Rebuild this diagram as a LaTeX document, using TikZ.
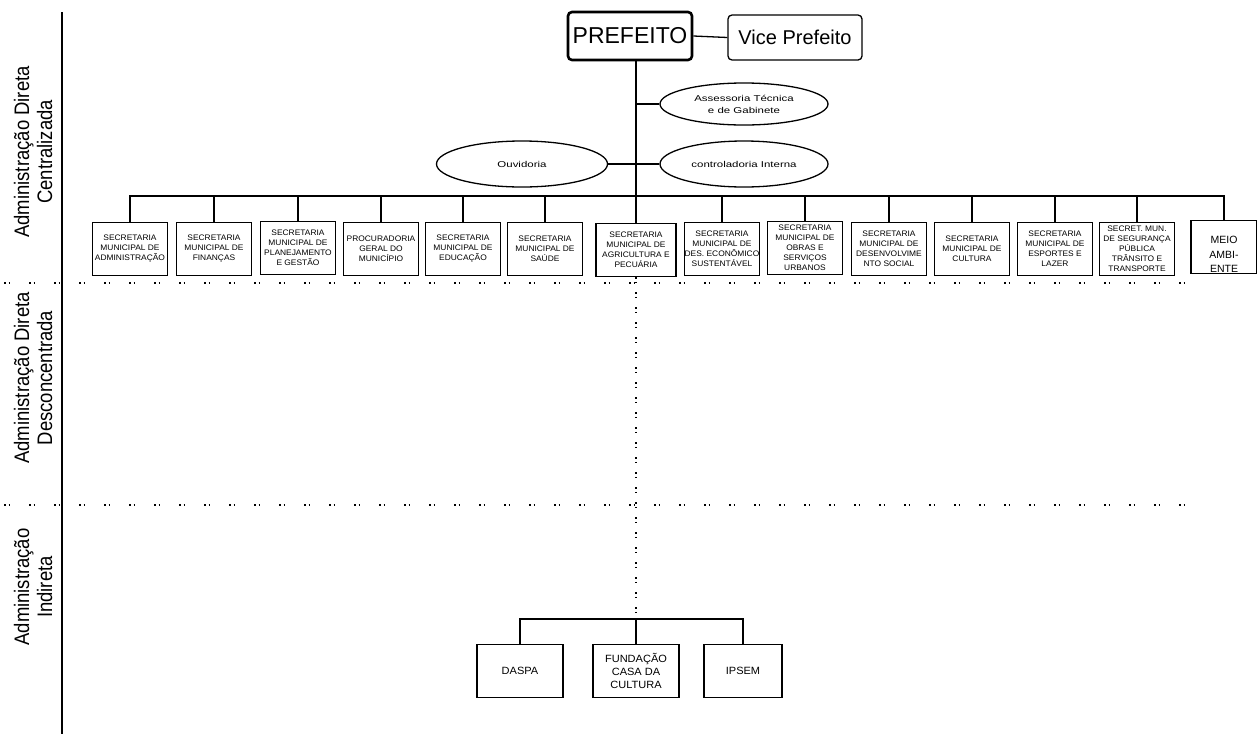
\documentclass[tikz,border=0pt]{standalone}
\usepackage{fontspec}
\setmainfont{Liberation Sans}
\newfontfamily\secfont[FakeStretch=1.05]{Liberation Sans}
\newfontfamily\ovalfont[FakeStretch=1.35]{Liberation Sans}
\newfontfamily\sidefont[FakeStretch=0.88]{Liberation Sans}
\usetikzlibrary{shapes.geometric}

\begin{document}
\begin{tikzpicture}[x=1pt, y=-1pt, line width=1.3pt,
        secbox/.style={draw, line width=1.5pt, minimum width=75pt, minimum height=53pt, inner xsep=0pt, inner ysep=1pt, align=center, font=\secfont\fontsize{8}{10}\selectfont},
        oval/.style={draw, ellipse, line width=1.3pt, minimum width=168pt, minimum height=46pt, inner sep=0pt, align=center, font=\ovalfont\fontsize{8.5}{12}\selectfont},
        indbox/.style={draw, line width=1.5pt, minimum width=86pt, minimum height=53pt, align=center, font=\secfont\fontsize{10.5}{13}\selectfont},
        sidelabel/.style={rotate=90, align=center, font=\sidefont\fontsize{21}{23}\selectfont},
        sepline/.style={line width=1.3pt, dash pattern=on 1.5pt off 3pt on 1.5pt off 19pt},
        trunkdots/.style={line width=1.3pt, dash pattern=on 1.5pt off 3pt on 1.5pt off 9pt}]
        \useasboundingbox (0,0) rectangle (1257,734);

        % side labels and dividers
        \node[sidelabel] (centralizada) at (33,152) {Administração Direta\\Centralizada};
        \node[sidelabel] (desconcentrada) at (33,378) {Administração Direta\\Desconcentrada};
        \node[sidelabel] (indireta) at (33,587) {Administração\\Indireta};
        \draw (62,12) -- (62,734);
        \draw[sepline] (4,283) -- (1185,283);
        \draw[sepline] (4,505) -- (1185,505);

        % top
        \node[draw, rounded corners=4pt, line width=2.6pt, minimum width=124pt, minimum height=48pt, font=\fontsize{23}{26}\selectfont] (prefeito) at (630,36) {PREFEITO};
        \node[draw, rounded corners=4pt, minimum width=134pt, minimum height=45pt, font=\fontsize{20}{24}\selectfont] (vice) at (795,37.5) {Vice Prefeito};
        \node[oval, minimum height=42pt] (assessoria) at (744,104) {Assessoria Técnica\\e de Gabinete};
        \node[oval, minimum width=171pt] (ouvidoria) at (522,164) {Ouvidoria};
        \node[oval] (controladoria) at (744,164) {controladoria Interna};

        % secretarias
        \node[secbox] (sec1) at (130,249) {SECRETARIA\\MUNICIPAL DE\\ADMINISTRAÇÃO};
        \node[secbox] (sec2) at (214,249) {SECRETARIA\\MUNICIPAL DE\\FINANÇAS};
        \node[secbox] (sec3) at (298,248) {SECRETARIA\\MUNICIPAL DE\\PLANEJAMENTO\\E GESTÃO};
        \node[secbox] (sec4) at (381,249) {PROCURADORIA\\GERAL DO\\MUNICÍPIO};
        \node[secbox] (sec5) at (463,249) {SECRETARIA\\MUNICIPAL DE\\EDUCAÇÃO};
        \node[secbox] (sec6) at (545,249) {SECRETARIA\\MUNICIPAL DE\\SAÚDE};
        \node[secbox, minimum width=80pt] (sec7) at (636,250) {SECRETARIA\\MUNICIPAL DE\\AGRICULTURA E\\PECUÁRIA};
        \node[secbox] (sec8) at (722,249) {SECRETARIA\\MUNICIPAL DE\\DES. ECONÔMICO\\SUSTENTÁVEL};
        \node[secbox] (sec9) at (805,248) {SECRETARIA\\MUNICIPAL DE\\OBRAS E\\SERVIÇOS\\URBANOS};
        \node[secbox] (sec10) at (889,249) {SECRETARIA\\MUNICIPAL DE\\DESENVOLVIME\\NTO SOCIAL};
        \node[secbox] (sec11) at (972,249) {SECRETARIA\\MUNICIPAL DE\\CULTURA};
        \node[secbox] (sec12) at (1055,249) {SECRETARIA\\MUNICIPAL DE\\ESPORTES E\\LAZER};
        \node[secbox] (sec13) at (1137,249) {SECRET. MUN.\\DE SEGURANÇA\\PÚBLICA\\TRÂNSITO E\\TRANSPORTE};
        \node[draw, line width=1.5pt, minimum width=66pt, minimum height=53pt] (meio) at (1224,247) {};
        \begin{scope}
            \clip (meio.north west) rectangle (meio.south east);
            \node[anchor=north, inner sep=0pt, align=center, font=\fontsize{10.5}{14.5}\selectfont] (meiotext) at (1224,236) {MEIO\\AMBI-\\ENTE};
        \end{scope}

        % indireta
        \node[indbox] (daspa) at (520,671) {DASPA};
        \node[indbox] (fundacao) at (636,671) {FUNDAÇÃO\\CASA DA\\CULTURA};
        \node[indbox, minimum width=78pt] (ipsem) at (743,671) {IPSEM};

        \coordinate (bus) at (636,196);
        \coordinate (bus2) at (636,619);

        \draw (prefeito.east) -- (vice.west);
        \draw (sec7.north |- prefeito.south) -- (sec7.north);
        \draw (assessoria.west) -- (assessoria.west -| bus);
        \draw (controladoria.west) -- (controladoria.west -| bus);
        \draw (ouvidoria.east) -- (ouvidoria.east -| bus);
        \draw (sec1.north) |- (bus) -| (meio.north);
        \draw (sec2.north) -- (sec2.north |- bus)
              (sec3.north) -- (sec3.north |- bus)
              (sec4.north) -- (sec4.north |- bus)
              (sec5.north) -- (sec5.north |- bus)
              (sec6.north) -- (sec6.north |- bus)
              (sec8.north) -- (sec8.north |- bus)
              (sec9.north) -- (sec9.north |- bus)
              (sec10.north) -- (sec10.north |- bus)
              (sec11.north) -- (sec11.north |- bus)
              (sec12.north) -- (sec12.north |- bus)
              (sec13.north) -- (sec13.north |- bus);
        \draw[trunkdots] (sec7.south) -- (bus2);
        \draw (daspa.north) |- (bus2) -| (ipsem.north);
        \draw (fundacao.north) -- (bus2);
    \end{tikzpicture}
\end{document}
